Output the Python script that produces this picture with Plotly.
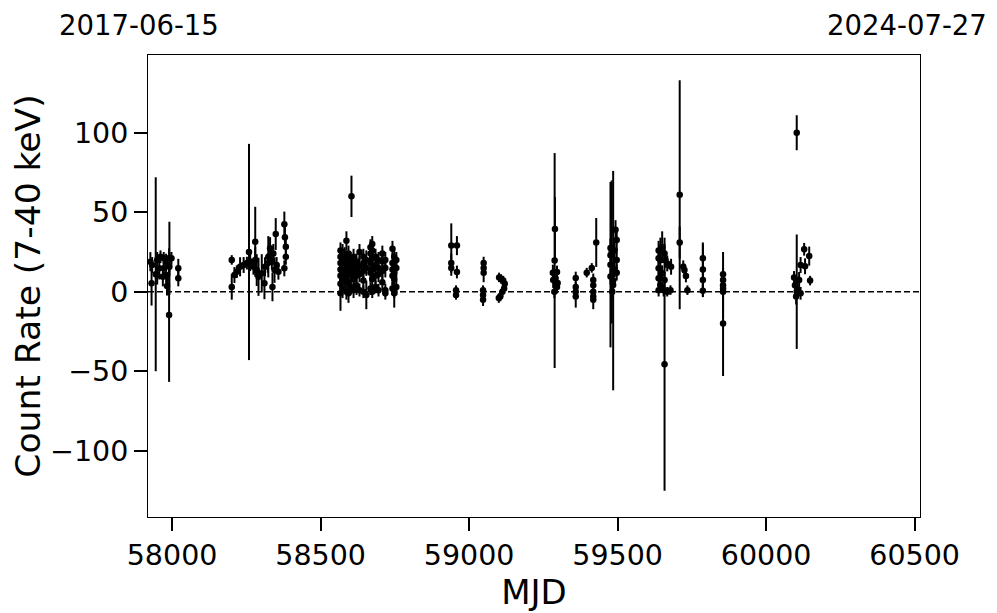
import plotly.graph_objects as go

# ---- data ----
mjd = [
    # 2017
    57927, 57931, 57933, 57945, 57950, 57950, 57957, 57961, 57969, 57972, 57972,
    57980, 57980, 57983, 57991, 57991, 57990, 57991, 57998, 58021, 58021,
    # 2018
    58201, 58201, 58210, 58218, 58229, 58241, 58252, 58259, 58263, 58274, 58280,
    58280, 58285, 58291, 58302, 58311, 58313, 58324, 58322, 58330, 58336, 58341,
    58345, 58338, 58349, 58352, 58358, 58378, 58380, 58383, 58383, 58378,
    # 2019
    58567, 58567, 58567, 58567, 58567, 58567, 58567,
    58574, 58574, 58574, 58574, 58574, 58574,
    58581, 58581, 58581, 58581, 58581,
    58587, 58587, 58587, 58587, 58587, 58587,
    58594, 58594, 58594, 58594, 58594,
    58601, 58601, 58601, 58601,
    58604,
    58611, 58611, 58611, 58611, 58611,
    58621, 58621, 58621, 58621,
    58631, 58631, 58631, 58631,
    58644, 58644, 58644, 58644, 58644,
    58654, 58654, 58654,
    58668, 58668, 58668, 58668, 58668,
    58674, 58674, 58674, 58674, 58674, 58674,
    58685, 58685, 58685, 58685,
    58695, 58695, 58695, 58695,
    58708, 58708, 58708, 58708,
    58718, 58718, 58718, 58718,
    58742, 58742, 58742, 58742, 58742,
    58748, 58748, 58748, 58748, 58748,
    58755, 58755, 58755,
    # 2020
    58940, 58940, 58940, 58959, 58959, 58956, 58956,
    59049, 59049, 59049, 59047, 59047, 59047,
    59101, 59108, 59115, 59120, 59118, 59112, 59105, 59100,
    # 2021
    59288, 59289, 59282, 59296, 59290, 59283, 59296, 59287, 59298,
    59359, 59359, 59359, 59359,
    59396, 59413, 59428, 59418, 59418, 59418, 59418, 59418,
    59476, 59476, 59476, 59476, 59485, 59485, 59482, 59493, 59497, 59497, 59497,
    59490, 59490, 59480,
    # 2022
    59638, 59638, 59638, 59638, 59638, 59650, 59650, 59644, 59644,
    59658, 59658, 59658, 59655, 59661, 59667, 59667, 59678, 59680,
    59709, 59709, 59721, 59725, 59730, 59735,
    59787, 59787, 59787, 59787,
    59855, 59855, 59855, 59855, 59855, 59855,
    # 2023
    60103, 60103, 60128, 60145, 60116, 60131, 60094, 60111, 60148, 60097, 60105,
    60116, 60101,
]

rate = [
    18.9, 5.3, 16.8, 11, 20, 10.5, 14.7, 22, 9.4, 21, 14.7,
    18.9, 10.5, 3.6, 21, 15.7, -14.7, 21, 21, 14.7, 8.4,
    20, 3, 10.5, 12.6, 15.7, 16.8, 18, 25, 19, 15.7, 31.4,
    20, 13.6, 9.4, 11.6, 5.3, 15.7, 22, 17.9, 27.3, 18.9, 24,
    13.6, 3, 36.3, 16.8, 12.6, 42.4, 34.2, 28.3, 22, 14.7,
    26, 22, 18, 14, 10, 5, -1,
    25, 20, 16, 12, 8, 2,
    23, 19, 15, 11, 7,
    32, 21, 17, 13, 9, 0,
    24, 18, 14, 6, -1,
    20, 15, 11, 3,
    60,
    22, 17, 12, 8, 1,
    19, 14, 10, 4,
    25, 16, 11, 1,
    22, 18, 13, 7, 0,
    20, 15, -2,
    28, 24, 18, 12, 2,
    30, 26, 21, 14, 8, 0,
    22, 17, 10, 3,
    20, 15, 11, 1,
    24, 19, 13, 6,
    20, 15, 1, -1,
    27, 18, 14, 10, 2,
    22, 12, 8, 0, -1,
    20, 15, 3,
    29, 18, 15, 29, 12.4, 1, -2,
    18, 15, 12, 1, -2, -5,
    9, 8, 7, 5, 2, 0, -3, -4,
    19.6, 39.5, 12, 12.4, 8.6, 7.4, 3, 0, 5.5,
    8.6, 3, 0, -3,
    12, 15, 31, 7.4, 4, 0, -3, -5,
    17, 27.5, 23, 9.6, 7, 4.2, 0, 39, 32.5, 20, 12,
    26, 14, 25,
    26, 21, 14.7, 8.4, 1, 28, 11.6, 20, 4.2,
    -45.6, 24, 7.4, 1, 20, 17.8, 0, 1, 15.7,
    61, 31, 15.7, 13.6, 9.9, 1,
    21, 14, 7.4, 0.6,
    11, 7.4, 4, 2, 0, -20,
    100, 0, 26.7, 22.4, 16.8, 16, 9, 7.4, 7, 4, 1,
    -1, -3,
]

err = [
    6, 14, 5, 61, 5, 6, 7, 4, 6, 4, 5,
    5, 5, 6, 4, 6, 42, 23, 4, 6, 5,
    3, 8, 5, 4, 6, 5, 4, 68, 6, 5, 22,
    8, 10, 12, 12, 10, 6, 13, 6, 7, 5, 6,
    8, 9, 10, 5, 5, 8, 7, 6, 5, 5,
    5, 5, 6, 6, 7, 6, 11,
    5, 6, 5, 6, 7, 6,
    5, 5, 6, 6, 5,
    6, 5, 6, 5, 6, 5,
    5, 6, 5, 6, 6,
    5, 5, 6, 5,
    13,
    5, 6, 5, 6, 5,
    5, 6, 5, 6,
    5, 6, 5, 4,
    5, 6, 5, 5, 4,
    6, 5, 9,
    5, 6, 5, 6, 4,
    5, 6, 5, 6, 5, 4,
    5, 6, 5, 4,
    5, 6, 5, 4,
    5, 6, 5, 5,
    5, 6, 4, 4,
    5, 6, 5, 6, 4,
    5, 6, 5, 4, 9,
    5, 6, 5,
    14, 6, 5, 6, 4, 3, 3,
    4, 3, 6, 3, 3, 4,
    3, 3, 3, 3, 3, 3, 3, 3,
    67.6, 20, 5, 4, 5, 5, 4, 4, 4,
    4, 3, 3, 7,
    3, 3, 15.4, 4, 4, 3, 4, 6,
    52, 6, 5, 5, 69, 5, 4, 6, 7, 5, 5,
    6, 5, 45,
    6, 5, 5, 5, 4, 10, 5, 14, 5,
    79.6, 6, 5, 4, 5, 5, 3, 3, 5,
    72, 10, 4, 4, 4, 3,
    9, 17, 5, 4,
    4, 4, 21, 4, 3, 33,
    11, 36, 4, 6, 5, 5, 4, 5, 3, 4, 4,
    4, 5,
]

x_range = [57919, 60518]
y_range = [-141.7, 148.9]
x_ticks = [58000, 58500, 59000, 59500, 60000, 60500]
y_ticks = [-100, -50, 0, 50, 100]
y_ticktext = ["\u2212100", "\u221250", "0", "50", "100"]
start_label = "2017-06-15"
end_label = "2024-07-27"

FONT = "DejaVu Sans"

fig = go.Figure()
fig.add_trace(go.Scatter(
    x=mjd, y=rate, mode="markers",
    marker=dict(color="black", size=6.5),
    error_y=dict(type="data", array=err, visible=True, color="black",
                 thickness=2, width=0),
    showlegend=False,
))

fig.add_shape(type="line", xref="paper", yref="y", x0=0, x1=1, y0=0, y1=0,
              line=dict(color="black", width=1.5, dash="6px,3px"), layer="below")

axis_common = dict(showgrid=False, zeroline=False, showline=True, mirror=True,
                   linecolor="black", linewidth=1, ticks="outside", ticklen=13,
                   tickwidth=2, tickcolor="black",
                   tickfont=dict(family=FONT, size=28.5, color="black"))

fig.update_xaxes(range=x_range, tickvals=x_ticks, ticktext=[str(t) for t in x_ticks],
                 title=dict(text="MJD", font=dict(family=FONT, size=34, color="black"),
                            standoff=0),
                 **axis_common)
fig.update_yaxes(range=y_range, tickvals=y_ticks, ticktext=y_ticktext,
                 title=dict(text="Count Rate (7-40 keV)",
                            font=dict(family=FONT, size=34.5, color="black"), standoff=6),
                 **axis_common)

fig.add_annotation(text=start_label, xref="paper", yref="paper", x=-0.0123, y=1.066,
                   xanchor="center", yanchor="middle", showarrow=False,
                   font=dict(family=FONT, size=27.5, color="black"))
fig.add_annotation(text=end_label, xref="paper", yref="paper", x=0.983, y=1.066,
                   xanchor="center", yanchor="middle", showarrow=False,
                   font=dict(family=FONT, size=27.5, color="black"))

# the page body adds an 8px offset, so the figure is sized to fill the rest of the window
fig.update_layout(
    width=989, height=605,
    margin=dict(l=138, r=77, t=47, b=96),
    paper_bgcolor="white", plot_bgcolor="white",
    font=dict(family=FONT, color="black"),
)

fig.write_html("out.html")
